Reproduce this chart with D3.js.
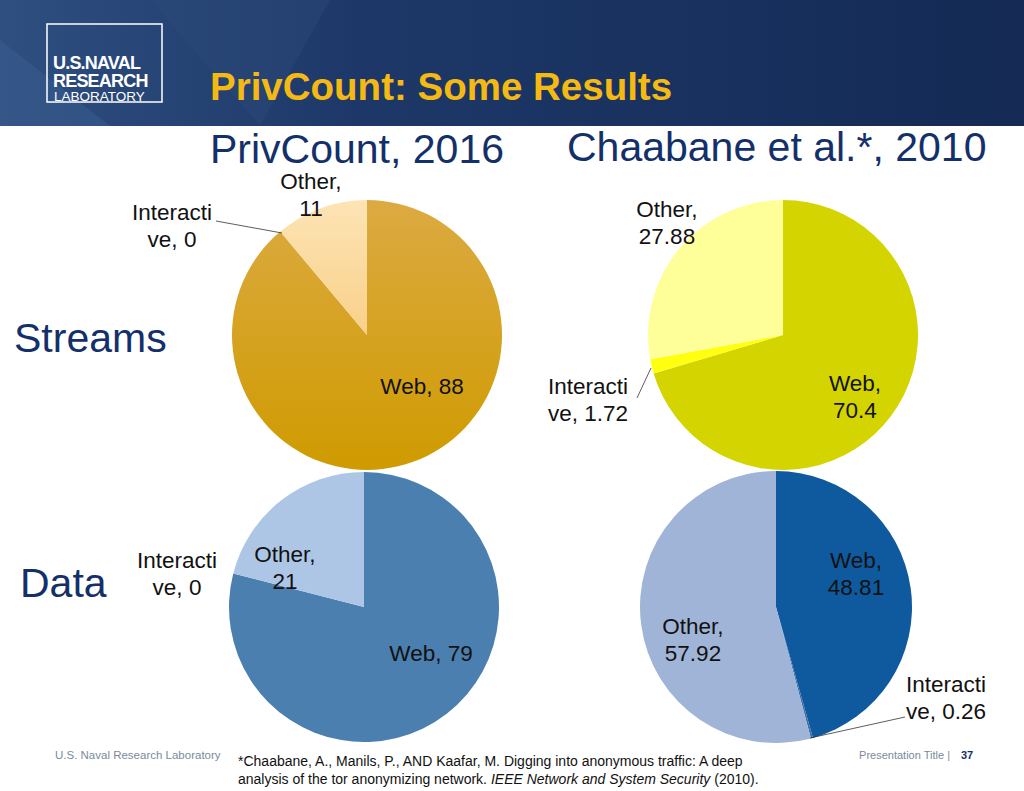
<!DOCTYPE html>
<html><head><meta charset="utf-8">
<script src="https://cdn.jsdelivr.net/npm/d3@7"></script>
<style>body{margin:0;background:#fff}svg{display:block;font-family:"Liberation Sans",Arial,sans-serif}</style>
</head><body><svg id="c" width="1024" height="791"></svg>
<script>
const categories = ["Web","Interactive","Other"];
const privStreams = [88, 0, 11];
const chaaStreams = [70.4, 1.72, 27.88];
const privData = [79, 0, 21];
const chaaData = [48.81, 0.26, 57.92];
const labelText = [["Web, 88","Interacti|ve, 0","Other,|11"],["Web,|70.4","Interacti|ve, 1.72","Other,|27.88"],["Web, 79","Interacti|ve, 0","Other,|21"],["Web,|48.81","Interacti|ve, 0.26","Other,|57.92"]];

const svg = d3.select("#c");
const defs = svg.append("defs");
const hg = defs.append("linearGradient").attr("id","hdr").attr("x1",0).attr("x2",1);
hg.append("stop").attr("offset",0).attr("stop-color","#2e4f80");
hg.append("stop").attr("offset",0.35).attr("stop-color","#1d3868");
hg.append("stop").attr("offset",1).attr("stop-color","#142a55");
svg.append("rect").attr("width",1024).attr("height",126).attr("fill","url(#hdr)");
svg.append("polygon").attr("points","0,40 110,126 0,126").attr("fill","#3a5d90").attr("opacity",0.5);
svg.append("polygon").attr("points","150,0 260,126 330,0").attr("fill","#2a4878").attr("opacity",0.5);
svg.append("rect").attr("x",47).attr("y",24).attr("width",115).attr("height",78).attr("fill","none").attr("stroke","#fff").attr("stroke-width",1.5);
[["U.S.NAVAL",69],["RESEARCH",87]].forEach(t=>svg.append("text").attr("x",53).attr("y",t[1]).attr("fill","#fff").attr("font-size",18).attr("font-weight","bold").attr("letter-spacing",-0.8).text(t[0]));
svg.append("text").attr("x",54).attr("y",101).attr("fill","#fff").attr("font-size",13.5).text("LABORATORY");
svg.append("text").attr("x",210).attr("y",100).attr("fill","#f5b914").attr("font-size",38.5).attr("font-weight","bold").text("PrivCount: Some Results");

svg.append("text").attr("x",210).attr("y",163).attr("fill","#14306a").attr("font-size",41).text("PrivCount, 2016");
svg.append("text").attr("x",567).attr("y",161).attr("fill","#14306a").attr("font-size",41).text("Chaabane et al.*, 2010");
svg.append("text").attr("x",14).attr("y",352).attr("fill","#14306a").attr("font-size",41).text("Streams");
svg.append("text").attr("x",20).attr("y",597).attr("fill","#14306a").attr("font-size",41).text("Data");

const g1 = defs.append("linearGradient").attr("id","gold").attr("x1",0).attr("x2",0).attr("y1",0).attr("y2",1);
g1.append("stop").attr("offset",0).attr("stop-color","#dcaa42");
g1.append("stop").attr("offset",1).attr("stop-color","#cf9b00");
const g2 = defs.append("linearGradient").attr("id","cream").attr("x1",0).attr("x2",0).attr("y1",0).attr("y2",1);
g2.append("stop").attr("offset",0).attr("stop-color","#fde4b4");
g2.append("stop").attr("offset",1).attr("stop-color","#f9d08a");

const pies = [
 {vals:privStreams,cx:367,cy:335,r:135,colors:["url(#gold)","#d8a520","url(#cream)"],
  lab:[[422,394],[172,220],[311,189]],leader:[216,221,282,233]},
 {vals:chaaStreams,cx:783,cy:335,r:135,colors:["#d4d400","#ffff10","#ffff99"],
  lab:[[855,391],[588,394],[667,217]],leader:[637,398,651,368]},
 {vals:privData,cx:364,cy:607,r:135,colors:["#4a7fb0","#4a7fb0","#aec6e6"],
  lab:[[431,661],[177,568],[285,562]],leader:null},
 {vals:chaaData,cx:776,cy:607,r:136,colors:["#0f5a9e","#3a6ea5","#a0b4d8"],
  lab:[[856,568],[946,692],[693,634]],leader:[905,717,810,738]},
];
const pie = d3.pie().sort(null).value(d=>d);
pies.forEach((p,pi)=>{
  const arc = d3.arc().innerRadius(0).outerRadius(p.r);
  const g = svg.append("g").attr("transform",`translate(${p.cx},${p.cy})`);
  g.selectAll("path").data(pie(p.vals)).join("path").attr("d",arc).attr("fill",(d,i)=>p.colors[i]);
  if(p.leader) svg.append("line").attr("x1",p.leader[0]).attr("y1",p.leader[1]).attr("x2",p.leader[2]).attr("y2",p.leader[3]).attr("stroke","#333").attr("stroke-width",0.8);
  p.lab.forEach((l,i)=>{
    const lines = labelText[pi][i].split("|");
    const t = svg.append("text").attr("font-size",22.5).attr("fill","#111").attr("text-anchor","middle");
    lines.forEach((s,k)=>t.append("tspan").attr("x",l[0]).attr("y",l[1]+k*27).text(s));
  });
});

svg.append("text").attr("x",55).attr("y",759).attr("fill","#7a8aa0").attr("font-size",11.5).text("U.S. Naval Research Laboratory");
svg.append("text").attr("x",238).attr("y",766).attr("font-size",14).attr("fill","#111").text("*Chaabane, A., Manils, P., AND Kaafar, M. Digging into anonymous traffic: A deep");
const f2 = svg.append("text").attr("x",238).attr("y",784).attr("font-size",14).attr("fill","#111");
f2.append("tspan").text("analysis of the tor anonymizing network. ");
f2.append("tspan").attr("font-style","italic").text("IEEE Network and System Security");
f2.append("tspan").text(" (2010).");
svg.append("text").attr("x",950).attr("y",759).attr("text-anchor","end").attr("fill","#7a8aa0").attr("font-size",11).text("Presentation Title  |");
svg.append("text").attr("x",961).attr("y",759).attr("fill","#14306a").attr("font-size",11).attr("font-weight","bold").text("37");
</script></body></html>
